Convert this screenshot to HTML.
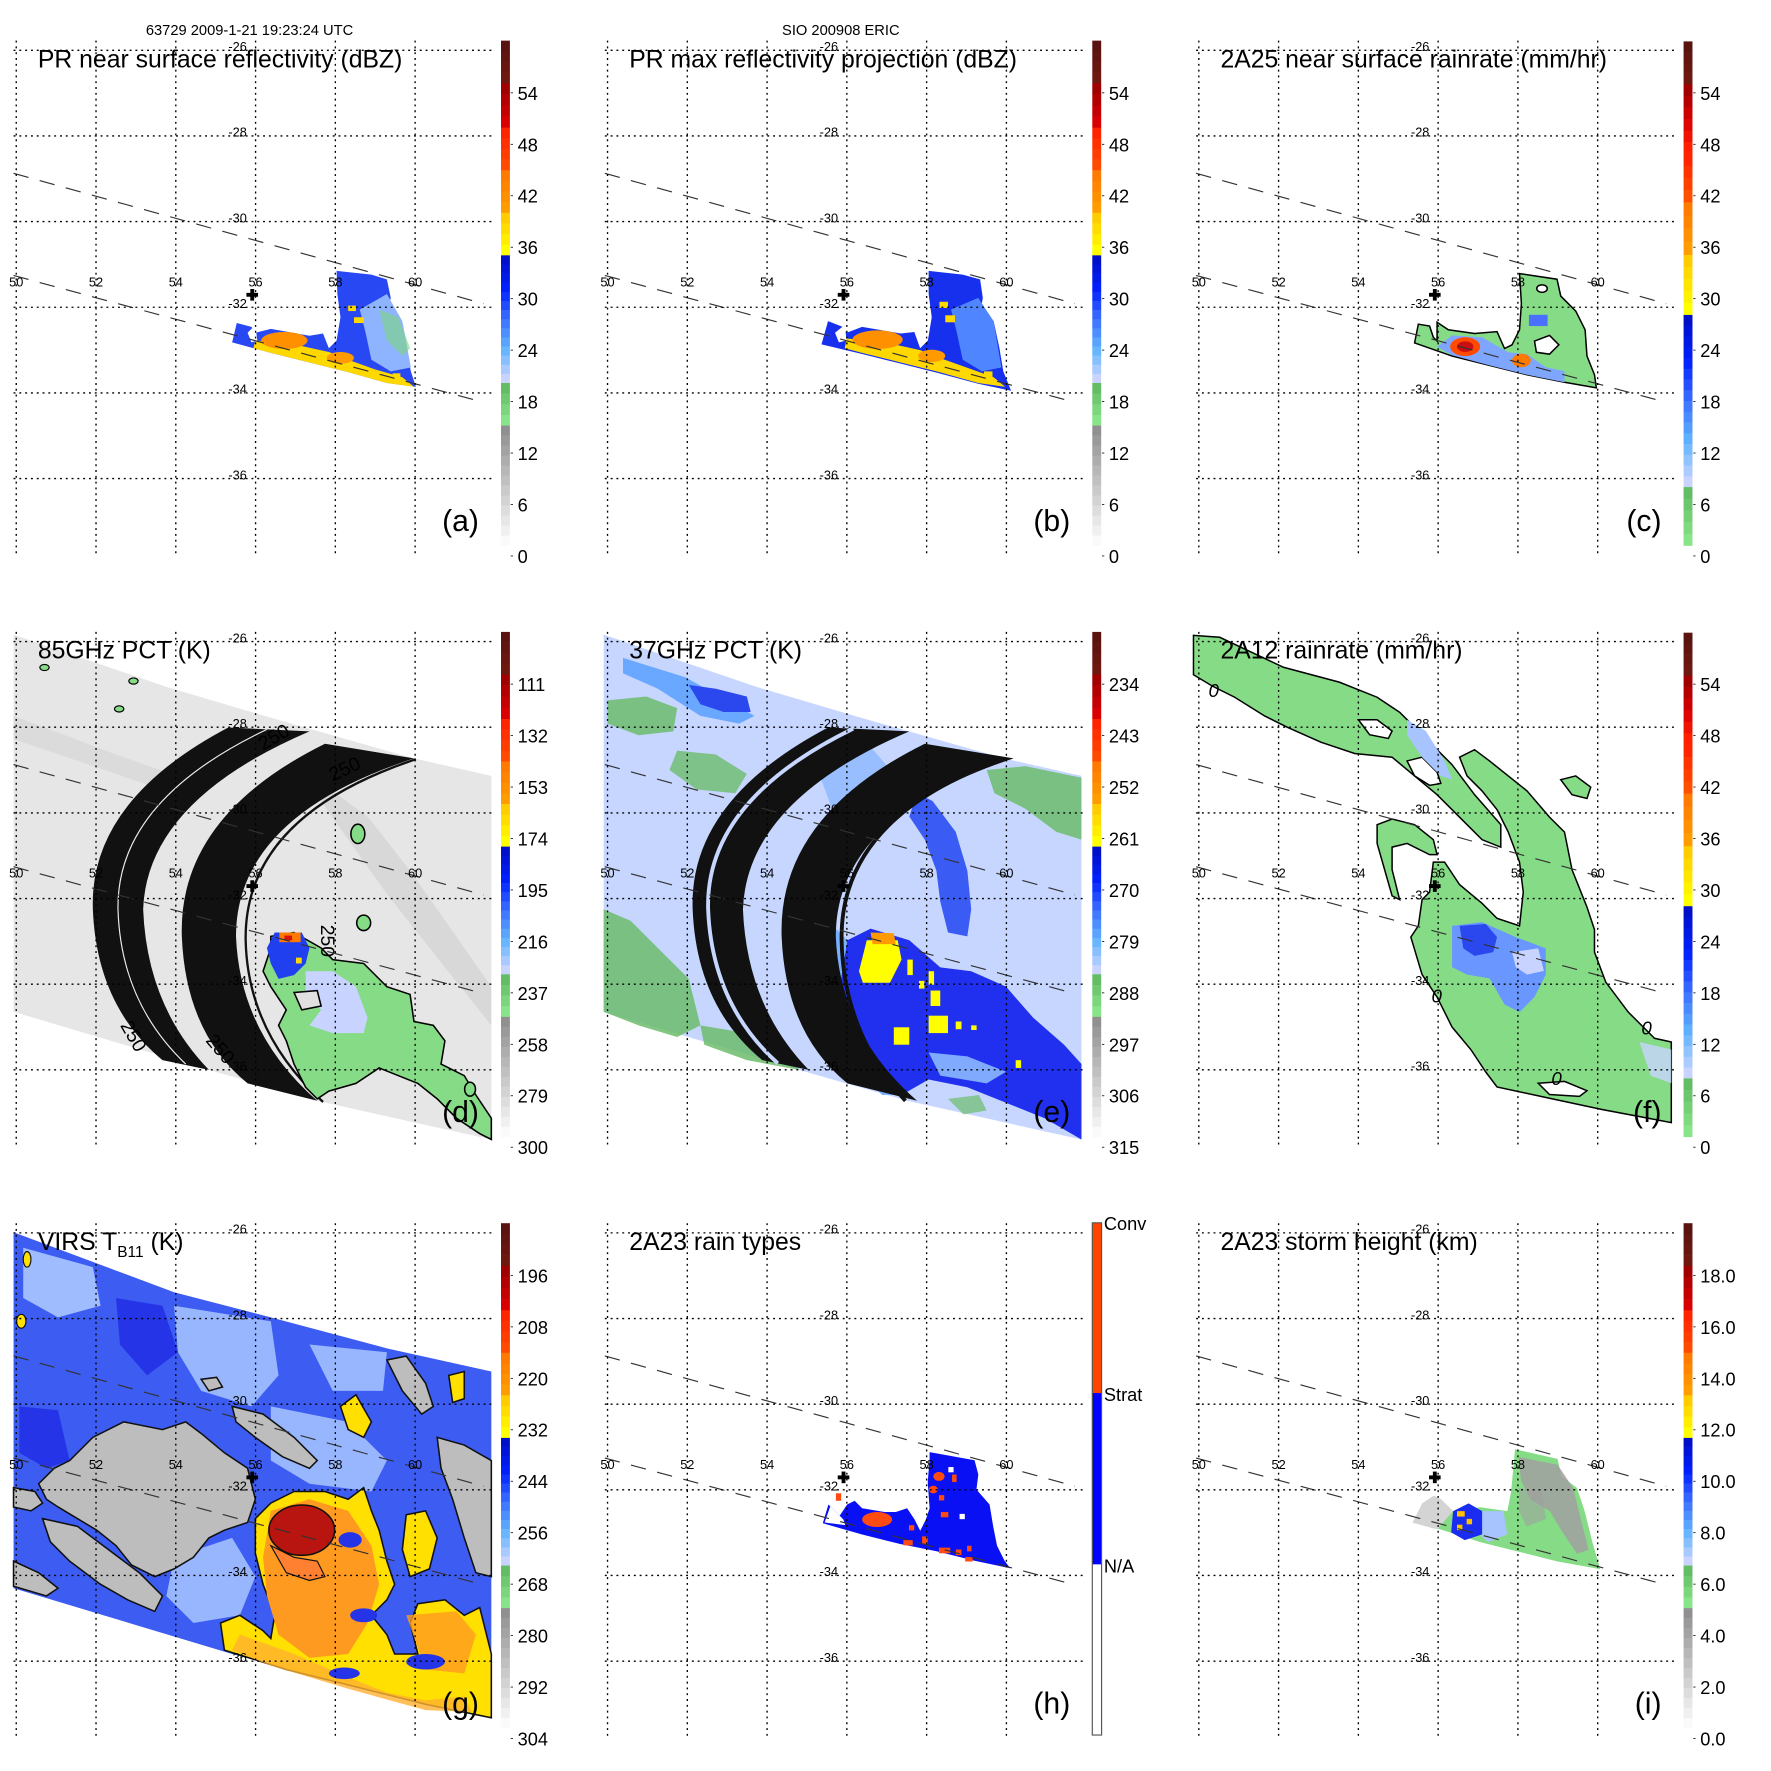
<!DOCTYPE html>
<html><head><meta charset="utf-8">
<style>
html,body{margin:0;padding:0;background:#fff;}
svg{display:block;font-family:"Liberation Sans",Arial,sans-serif;}
</style></head>
<body>
<svg id="fig" width="1771" height="1771" viewBox="0 0 1550 1550" xmlns="http://www.w3.org/2000/svg">
<rect x="0" y="0" width="1550" height="1550" fill="#fff"/>

<!-- panel a -->
<g id="pa" transform="translate(0,0) scale(0.3386)">
 <g>
  <polygon fill="#2848f4" points="600,885 612,835 650,845 660,860 700,850 800,868 835,862 850,900 870,880 880,820 872,760 870,700 960,710 1000,722 1010,770 1000,810 1035,830 1050,900 1062,960 1075,1000 1000,990 900,962 800,937 700,912"/>
  <polygon fill="#8fb4ff" points="930,800 1000,760 1040,830 1062,950 1010,960 960,930 945,860"/>
  <polygon fill="#7cd67c" opacity="0.6" points="980,800 1030,820 1060,900 1040,920 1000,880"/>
  <polygon fill="#ffd800" points="660,880 760,890 850,910 900,930 970,955 1040,975 1070,1000 1000,990 900,962 800,937 700,912 655,900"/>
  <ellipse cx="735" cy="880" rx="60" ry="22" fill="#ff9000"/>
  <ellipse cx="880" cy="925" rx="35" ry="15" fill="#ff9a00"/>
  <rect x="900" y="790" width="20" height="14" fill="#ffd800"/><rect x="915" y="820" width="25" height="15" fill="#ffd800"/><rect x="1015" y="965" width="20" height="15" fill="#ffd800"/>
  <polygon fill="#fff" points="640,860 660,840 665,880 650,885"/>
 </g>
</g>

<!-- panel b -->
<g id="pb" transform="translate(517.5,0) scale(0.3386)">
 <g>
  <polygon fill="#1630ee" points="595,890 612,830 650,845 660,860 700,845 800,862 835,858 850,900 870,880 880,820 872,760 872,700 960,710 1005,722 1012,770 1005,810 1040,830 1055,900 1065,960 1085,1010 1000,992 900,965 800,940 700,915"/>
  <polygon fill="#4f86ff" points="930,800 1000,770 1040,830 1060,950 1010,960 960,930 945,860"/>
  <polygon fill="#ffd800" points="660,875 760,885 850,905 900,925 970,950 1040,975 1070,1000 1000,990 900,962 800,937 700,912 655,900"/>
  <ellipse cx="740" cy="878" rx="65" ry="24" fill="#ff9000"/>
  <ellipse cx="880" cy="920" rx="35" ry="16" fill="#ff9a00"/>
  <rect x="900" y="780" width="22" height="16" fill="#ffd800"/><rect x="915" y="815" width="25" height="18" fill="#ffd800"/><rect x="1015" y="960" width="22" height="18" fill="#ffd800"/>
  <polygon fill="#fff" points="630,860 655,840 660,880 640,885"/>
 </g>
</g>

<!-- panel c -->
<g id="pc" transform="translate(1035,0) scale(0.3386)">
 <g transform="translate(18.5,0) scale(0.9687)">
  <polygon fill="#86dc86" stroke="#000" stroke-width="4" points="600,915 610,865 640,870 650,900 660,910 660,860 690,880 760,890 820,885 840,930 860,920 880,880 885,810 880,730 980,745 990,790 1030,830 1055,880 1060,950 1080,1000 1085,1035 1000,1020 900,1000 800,975 700,950"/>
  <polygon fill="#7fa6ff" points="660,925 700,895 780,900 850,940 900,945 950,980 1000,990 1000,1020 900,1000 800,975 700,948"/>
  <ellipse cx="735" cy="925" rx="40" ry="25" fill="#ff4a00"/>
  <ellipse cx="735" cy="925" rx="22" ry="14" fill="#c81010"/>
  <ellipse cx="885" cy="962" rx="25" ry="18" fill="#ff7a00"/>
  <polygon fill="#fff" stroke="#000" stroke-width="4" points="920,910 960,895 985,920 960,945 925,940"/>
  <ellipse cx="940" cy="770" rx="14" ry="10" fill="#fff" stroke="#000" stroke-width="4"/>
  <rect x="905" y="840" width="50" height="30" fill="#4a70ff"/>
 </g>
</g>

<!-- panel d -->
<g id="pd" transform="translate(0,517.5) scale(0.3386)">
 <g transform="translate(0,22)">
  <polygon fill="#e6e6e6" points="35,90 430,225 700,305 1070,410 1270,455 1270,1395 820,1295 540,1215 35,1065"/>
  <polygon fill="#d2d2d2" opacity="0.7" points="840,480 950,560 1060,700 1200,900 1270,1000 1270,1100 1150,950 1000,760 900,620 830,520"/>
  <polygon fill="#d6d6d6" opacity="0.7" points="35,300 300,400 500,470 500,520 300,450 35,360"/>
  <path fill="#111" d="M590,330 Q230,520 240,800 Q250,1050 420,1190 L540,1215 Q380,1050 370,800 Q380,520 800,340 Z"/>
  <path fill="none" stroke="#eee" stroke-width="3" d="M690,335 Q300,520 305,800 Q312,1040 480,1200"/>
  <path fill="#111" d="M840,372 Q460,560 470,870 Q480,1120 640,1250 L820,1295 Q620,1120 610,870 Q610,560 1070,410 Z"/>
  <path fill="none" stroke="#111" stroke-width="6" d="M1075,412 Q630,560 635,880 Q640,1120 835,1298"/>
  <polygon fill="#86dc86" stroke="#000" stroke-width="4" points="700,870 760,860 830,900 860,930 940,940 1000,1000 1060,1020 1070,1090 1120,1100 1150,1140 1140,1200 1200,1230 1230,1280 1270,1340 1270,1395 1240,1380 1180,1340 1130,1290 1080,1250 1030,1230 980,1210 920,1250 850,1270 820,1290 790,1260 760,1200 740,1140 720,1100 740,1060 700,1000 680,960 700,900"/>
  <polygon fill="#c8d4ff" points="790,960 860,960 920,1000 950,1080 940,1120 860,1120 800,1100 830,1060 790,1020"/>
  <polygon fill="#2040f0" points="710,860 780,860 800,900 790,940 760,970 720,980 700,940 690,900"/>
  <rect x="722" y="860" width="55" height="25" fill="#ff7a00"/><rect x="735" y="868" width="20" height="12" fill="#d81010"/><rect x="765" y="925" width="15" height="15" fill="#ffd800"/>
  <polygon fill="#e0e0e0" stroke="#000" stroke-width="4" points="760,1015 820,1010 830,1050 780,1060"/>
  <ellipse cx="925" cy="605" rx="18" ry="25" fill="#86dc86" stroke="#000" stroke-width="4"/>
  <ellipse cx="940" cy="835" rx="18" ry="20" fill="#86dc86" stroke="#000" stroke-width="4"/>
  <ellipse cx="1215" cy="1265" rx="14" ry="18" fill="#86dc86" stroke="#000" stroke-width="4"/>
  <ellipse cx="115" cy="175" rx="12" ry="8" fill="#86dc86" stroke="#000" stroke-width="3"/>
  <ellipse cx="345" cy="210" rx="12" ry="8" fill="#86dc86" stroke="#000" stroke-width="3"/>
  <ellipse cx="308" cy="282" rx="12" ry="8" fill="#86dc86" stroke="#000" stroke-width="3"/>
  <text x="0" y="0" font-size="50" transform="translate(680,390) rotate(-30)">250</text>
  <text x="0" y="0" font-size="50" transform="translate(860,470) rotate(-25)">250</text>
  <text x="0" y="0" font-size="50" transform="translate(830,840) rotate(90)">250</text>
  <text x="0" y="0" font-size="50" transform="translate(310,1100) rotate(60)">250</text>
  <text x="0" y="0" font-size="50" transform="translate(530,1140) rotate(50)">250</text>
 </g>
</g>

<!-- panel e -->
<g id="pe" transform="translate(517.5,517.5) scale(0.3386)">
 <g transform="translate(22,22)">
  <polygon fill="#c6d6ff" points="10,90 405,225 675,305 1045,410 1245,455 1245,1395 795,1295 515,1215 10,1065"/>
  <polygon fill="#6cbc6c" opacity="0.85" points="20,260 120,250 200,280 190,340 100,350 20,320"/>
  <polygon fill="#6cbc6c" opacity="0.8" points="200,390 300,400 380,450 350,500 250,490 180,440"/>
  <polygon fill="#6cbc6c" opacity="0.85" points="1000,440 1100,430 1245,460 1245,620 1180,600 1100,540 1020,500"/>
  <polygon fill="#6cbc6c" opacity="0.85" points="10,800 80,830 150,900 230,980 260,1100 200,1130 100,1100 10,1065"/>
  <polygon fill="#6cbc6c" opacity="0.85" points="260,1100 380,1120 500,1180 515,1215 380,1190 270,1150"/>
  <polygon fill="#6cbc6c" opacity="0.7" points="900,1290 980,1280 1000,1320 940,1330"/>
  <polygon fill="#6aa8ff" points="60,150 220,200 330,260 400,300 360,320 260,300 150,230 60,190"/>
  <polygon fill="#2a48ee" points="230,220 300,230 380,250 390,290 320,290 260,270"/>
  <polygon fill="#8cb8ff" opacity="0.8" points="560,430 700,380 760,450 700,520 600,540"/>
  <polygon fill="#3a5cf4" points="820,500 860,520 920,600 950,700 960,800 950,870 900,860 880,780 870,700 840,620 800,560"/>
  <polygon fill="#2030ee" points="640,880 700,850 800,880 880,950 960,960 1050,1000 1120,1080 1200,1150 1245,1200 1245,1395 1150,1340 1050,1300 950,1260 850,1240 780,1280 700,1200 640,1100 620,1000"/>
  <polygon fill="#78b0ff" points="600,840 640,880 620,1000 640,1100 700,1200 780,1280 730,1280 650,1200 600,1100 590,950"/>
  <polygon fill="#8ab8ff" opacity="0.9" points="850,1170 950,1180 1050,1220 1000,1250 880,1230"/>
  <polygon fill="#ffff00" points="690,880 770,880 780,930 750,990 680,990 670,960"/>
  <polygon fill="#ff9a00" points="700,860 760,862 765,890 705,890"/>
  <rect x="795" y="930" width="14" height="40" fill="#ffff00"/><rect x="850" y="960" width="14" height="35" fill="#ffff00"/><rect x="825" y="985" width="14" height="20" fill="#ffff00"/>
  <rect x="855" y="1010" width="25" height="40" fill="#ffff00"/><rect x="850" y="1075" width="50" height="45" fill="#ffff00"/><rect x="760" y="1105" width="40" height="45" fill="#ffff00"/>
  <rect x="920" y="1090" width="15" height="20" fill="#ffff00"/><rect x="1075" y="1190" width="14" height="20" fill="#ffff00"/><rect x="960" y="1100" width="14" height="12" fill="#ffff00"/>
  <path fill="#111" d="M590,330 Q230,520 240,800 Q250,1050 420,1190 L540,1215 Q380,1050 370,800 Q380,520 800,340 Z"/>
  <path fill="none" stroke="#c6d6ff" stroke-width="10" d="M655,333 Q272,520 280,800 Q290,1045 460,1198"/>
  <path fill="#111" d="M840,372 Q460,560 470,870 Q480,1120 640,1250 L820,1295 Q620,1120 610,870 Q610,560 1070,410 Z"/>
  <path fill="none" stroke="#111" stroke-width="10" d="M1045,412 Q620,560 625,880 Q630,1120 790,1295"/>
 </g>
</g>

<!-- panel f -->
<g id="pf" transform="translate(1035,517.5) scale(0.3386)">
 <g transform="translate(18.5,22) scale(0.9687)">
  <polygon fill="#86dc86" stroke="#000" stroke-width="4" points="10,95 80,100 250,180 400,220 500,260 560,300 620,360 700,440 760,520 830,600 830,660 780,640 720,580 660,520 600,470 540,420 440,410 350,380 260,340 200,310 120,260 60,230 10,200"/>
  <polygon fill="#86dc86" stroke="#000" stroke-width="4" points="720,420 760,400 800,430 850,470 900,510 960,580 1000,620 1020,720 1060,820 1080,880 1080,940 1110,1020 1170,1100 1240,1170 1285,1180 1285,1395 1100,1360 960,1330 820,1300 790,1260 750,1200 700,1140 660,1060 620,1000 590,900 610,870 620,800 640,780 650,700 680,700 720,760 780,810 820,850 880,870 890,780 880,700 850,620 820,560 780,510 740,470"/>
  <polygon fill="#86dc86" stroke="#000" stroke-width="4" points="500,600 540,585 600,600 650,640 660,680 640,680 580,650 540,660 540,720 560,800 540,790 520,720 500,650"/>
  <polygon fill="#86dc86" stroke="#000" stroke-width="4" points="990,480 1030,470 1070,500 1060,530 1020,520"/>
  <polygon fill="#fff" stroke="#000" stroke-width="4" points="580,430 620,420 660,460 670,490 640,495 600,470"/>
  <polygon fill="#fff" stroke="#000" stroke-width="4" points="450,320 500,320 540,350 530,370 480,360"/>
  <polygon fill="#fff" stroke="#000" stroke-width="4" points="930,1290 1000,1285 1060,1310 1040,1325 960,1320"/>
  <polygon fill="#a8c4ff" points="580,320 630,350 680,430 700,480 670,470 620,420 580,360"/>
  <polygon fill="#6a96ff" points="700,870 780,860 870,900 950,930 950,1000 920,1060 880,1100 840,1080 800,1010 740,1000 700,980"/>
  <polygon fill="#2a48ee" points="720,870 790,865 820,900 810,940 760,950 730,930"/>
  <polygon fill="#c8d4ff" points="860,940 930,930 945,990 900,1000 870,980"/>
  <polygon fill="#c8d4ff" opacity="0.8" points="1200,1180 1285,1200 1285,1290 1230,1270"/>
  <text x="50" y="260" font-size="50" font-style="italic">0</text>
  <text x="645" y="1075" font-size="50" font-style="italic">0</text>
  <text x="1205" y="1160" font-size="50" font-style="italic">0</text>
  <text x="965" y="1295" font-size="50" font-style="italic">0</text>
 </g>
</g>

<!-- panel g -->
<g id="pg" transform="translate(0,1035) scale(0.3386)">
 <g transform="translate(0,18.5)">
  <polygon fill="#3c5cf2" points="35,110 450,265 700,330 1000,410 1270,470 1270,1365 900,1280 600,1200 35,1030"/>
  <polygon fill="#a8c6ff" opacity="0.9" points="60,150 240,200 260,300 150,330 60,280"/>
  <polygon fill="#a8c6ff" opacity="0.85" points="450,300 700,340 720,480 650,560 520,520 460,420"/>
  <polygon fill="#a8c6ff" opacity="0.85" points="700,560 900,600 1000,700 960,780 800,760 700,700"/>
  <polygon fill="#a8c6ff" opacity="0.85" points="800,400 1000,420 990,520 860,520"/>
  <polygon fill="#a8c6ff" opacity="0.85" points="450,950 600,900 660,1000 620,1100 500,1120 430,1050"/>
  <polygon fill="#2434e6" points="300,280 420,300 460,420 380,480 310,400"/>
  <polygon fill="#2434e6" points="50,560 150,570 180,700 120,720 50,680"/>
  <polygon fill="#bdbdbd" stroke="#111" stroke-width="4" points="180,700 240,640 320,600 420,620 480,600 520,630 580,680 640,720 660,800 640,860 580,880 540,900 500,950 450,980 400,1000 340,970 300,920 250,880 200,850 150,820 120,800 100,760 140,720"/>
  <polygon fill="#bdbdbd" stroke="#111" stroke-width="4" points="110,850 200,870 280,930 360,990 420,1050 400,1090 330,1060 260,1020 180,960 130,910"/>
  <polygon fill="#bdbdbd" stroke="#111" stroke-width="4" points="35,770 90,780 110,810 80,830 35,820"/>
  <polygon fill="#bdbdbd" stroke="#111" stroke-width="4" points="35,960 100,990 150,1030 120,1050 35,1025"/>
  <polygon fill="#bdbdbd" stroke="#111" stroke-width="4" points="1130,640 1200,660 1270,700 1270,1000 1230,990 1200,900 1170,800 1140,720"/>
  <polygon fill="#bdbdbd" stroke="#111" stroke-width="4" points="600,560 680,580 760,640 820,700 800,720 730,690 660,640 610,600"/>
  <polygon fill="#bdbdbd" stroke="#111" stroke-width="4" points="1000,440 1050,430 1100,500 1120,560 1090,580 1040,520"/>
  <polygon fill="#bdbdbd" stroke="#111" stroke-width="4" points="520,490 560,485 575,510 540,520"/>
  <polygon fill="#ffe000" stroke="#111" stroke-width="4" points="660,850 700,810 760,780 840,780 900,800 940,770 960,830 980,880 1000,960 1020,1020 1000,1060 960,1100 1000,1150 1020,1200 1080,1200 1060,1120 1080,1070 1150,1060 1200,1100 1240,1080 1270,1200 1270,1365 1100,1330 900,1280 740,1240 580,1190 570,1120 620,1100 680,1140 700,1160 710,1100 680,1020 660,940"/>
  <polygon fill="#ff9a20" points="700,830 800,800 900,830 960,920 980,1020 950,1120 900,1200 800,1210 720,1150 690,1050 680,950"/>
  <polygon fill="#ffb030" opacity="0.8" points="620,1150 760,1200 900,1260 1000,1300 1100,1320 1200,1310 1220,1350 1100,1345 900,1290 700,1230 600,1190"/>
  <polygon fill="#ff9a20" opacity="0.8" points="1050,1100 1180,1090 1230,1150 1200,1250 1100,1240"/>
  <ellipse cx="780" cy="880" rx="85" ry="65" fill="#b81410" stroke="#111" stroke-width="4"/>
  <polygon fill="#ff8030" stroke="#111" stroke-width="3" points="700,920 760,950 820,960 840,1000 800,1010 740,990"/>
  <polygon fill="#ffe000" stroke="#111" stroke-width="4" points="1050,840 1100,830 1130,900 1110,980 1060,1000 1040,930"/>
  <polygon fill="#ffe000" stroke="#111" stroke-width="4" points="880,560 920,530 960,600 940,640 900,620"/>
  <polygon fill="#ffe000" stroke="#111" stroke-width="4" points="1160,480 1200,470 1200,540 1170,550"/>
  <ellipse cx="70" cy="180" rx="10" ry="20" fill="#ffe000" stroke="#111" stroke-width="3"/>
  <ellipse cx="55" cy="340" rx="12" ry="18" fill="#ffe000" stroke="#111" stroke-width="3"/>
  <ellipse cx="905" cy="905" rx="30" ry="20" fill="#2434e6"/>
  <ellipse cx="940" cy="1100" rx="35" ry="18" fill="#2434e6"/>
  <ellipse cx="1100" cy="1220" rx="50" ry="20" fill="#2434e6"/>
  <ellipse cx="890" cy="1250" rx="40" ry="15" fill="#2434e6"/>
 </g>
</g>

<!-- panel h -->
<g id="ph" transform="translate(517.5,1035) scale(0.3386)">
 <g transform="translate(22,18.5) scale(0.9687)">
  <polygon fill="#0a10f4" points="595,890 610,840 640,870 660,840 680,830 700,850 760,860 790,860 820,850 840,880 855,910 870,880 880,850 875,780 880,720 880,700 1000,722 1010,760 1005,800 1040,840 1050,900 1060,950 1080,990 1095,1010 1000,990 900,965 800,945 700,920"/>
  <polygon fill="#fff" points="615,845 650,880 655,895 600,888"/>
  <ellipse cx="740" cy="880" rx="40" ry="20" fill="#ff4a10"/>
  <ellipse cx="905" cy="765" rx="15" ry="12" fill="#ff4a10"/>
  <ellipse cx="890" cy="800" rx="12" ry="10" fill="#ff4a10"/>
  <rect x="940" y="760" width="12" height="20" fill="#ff4a10"/><rect x="905" y="815" width="14" height="14" fill="#ff4a10"/><rect x="910" y="860" width="20" height="14" fill="#ff4a10"/>
  <rect x="810" y="935" width="25" height="14" fill="#ff4a10"/><rect x="860" y="925" width="15" height="20" fill="#ff4a10"/><rect x="905" y="955" width="30" height="15" fill="#ff4a10"/>
  <rect x="950" y="960" width="15" height="15" fill="#ff4a10"/><rect x="975" y="980" width="20" height="12" fill="#ff4a10"/><rect x="825" y="895" width="14" height="14" fill="#ff4a10"/>
  <rect x="630" y="810" width="14" height="20" fill="#ff4a10"/><rect x="980" y="950" width="12" height="15" fill="#ff4a10"/>
  <rect x="960" y="865" width="14" height="14" fill="#fff"/><rect x="930" y="740" width="14" height="14" fill="#fff"/>
 </g>
</g>

<!-- panel i -->
<g id="pi" transform="translate(1035,1035) scale(0.3386)">
 <g transform="translate(-30.7,-30.7)">
  <polygon fill="#d4d4d4" points="625,910 650,860 680,840 700,850 730,880 720,930 680,925"/>
  <polygon fill="#86dc86" points="690,925 730,880 800,870 870,880 880,830 890,720 1000,745 1010,790 1050,820 1070,880 1090,960 1110,1030 1000,1010 900,985 800,960"/>
  <polygon fill="#a0a0a0" opacity="0.85" points="900,740 1000,760 1040,820 1060,900 1080,980 1050,990 1010,930 980,880 930,850 905,800"/>
  <polygon fill="#a0a0a0" opacity="0.6" points="900,820 960,830 970,900 920,920 900,880"/>
  <polygon fill="#a8c4ff" points="800,880 860,880 870,940 820,960 790,930"/>
  <polygon fill="#1a2cf0" points="730,880 770,860 805,880 805,940 760,955 725,935"/>
  <rect x="740" y="880" width="20" height="14" fill="#ffc000"/><rect x="765" y="900" width="14" height="14" fill="#ffc000"/><rect x="740" y="915" width="14" height="14" fill="#ffc000"/>
 </g>
</g>

<script>
// ---- axis tick data ----
const lonTicks = [50, 52, 54, 56, 58, 60];
const latTicks = [-26, -28, -30, -32, -34, -36];
const cbLabelsA = ['54', '48', '42', '36', '30', '24', '18', '12', '6', '0'];
const cbLabelsB = ['54', '48', '42', '36', '30', '24', '18', '12', '6', '0'];
const cbLabelsC = ['54', '48', '42', '36', '30', '24', '18', '12', '6', '0'];
const cbLabelsD = ['111', '132', '153', '174', '195', '216', '237', '258', '279', '300'];
const cbLabelsE = ['234', '243', '252', '261', '270', '279', '288', '297', '306', '315'];
const cbLabelsF = ['54', '48', '42', '36', '30', '24', '18', '12', '6', '0'];
const cbLabelsG = ['196', '208', '220', '232', '244', '256', '268', '280', '292', '304'];
const cbLabelsH = ['Conv', 'Strat', 'N/A'];
const cbLabelsI = ['18.0', '16.0', '14.0', '12.0', '10.0', '8.0', '6.0', '4.0', '2.0', '0.0'];

const NS = 'http://www.w3.org/2000/svg';
function xLon(lon) { return 42 + (lon - 50) * 103.1; }
function yLat(lat) { return 130 + (-26 - lat) * 110.7; }
function mk(tag, attrs, parent) {
  const e = document.createElementNS(NS, tag);
  for (const k in attrs) e.setAttribute(k, attrs[k]);
  parent.appendChild(e);
  return e;
}
function hex(c) { return [parseInt(c.substr(1,2),16), parseInt(c.substr(3,2),16), parseInt(c.substr(5,2),16)]; }
function lerp(a, b, t) { const A = hex(a), B = hex(b); return 'rgb(' + A.map((v,i)=>Math.round(v+(B[i]-v)*t)).join(',') + ')'; }

const stdBands = [[105,215,['#5a1410','#6e1810'],4],[215,330,['#a00000','#d80000'],4],[330,440,['#ff2400','#ff4a00'],4],[440,550,['#ff7a00','#ff9c00'],4],[550,660,['#ffcc00','#ffff00'],4],[660,990,['#0010c8','#0020ff','#3c70ff','#60b4ff','#c8d4ff'],14],[990,1100,['#64bc64','#88e488'],4],[1100,1410,['#909090','#fafafa'],12]];
const rainBands = [[107,218,['#5a1410','#6e1810'],4],[218,397,['#a00000','#d80000','#ff2000'],6],[397,523,['#ff2400','#ff5000'],4],[523,659,['#ff7a00','#ff9c00'],4],[659,814,['#ffcc00','#ffff00'],5],[814,1259,['#0010c8','#0020ff','#3c70ff','#60b4ff','#c8d4ff'],16],[1259,1410,['#64bc64','#88e488'],5]];

function drawBands(g, bands) {
  bands.forEach(b => {
    const [y0, y1, cols, n] = b;
    const h = (y1 - y0) / n;
    for (let i = 0; i < n; i++) {
      const t = n > 1 ? i / (n - 1) : 0;
      const seg = t * (cols.length - 1);
      const k = Math.min(Math.floor(seg), cols.length - 2);
      const r = mk('rect', {x: 1295, y: y0 + i * h, width: 23, height: h + 0.8, fill: lerp(cols[k], cols[k+1], seg - k)}, g);
      
      
    }
  });
}

const panels = [
  {id:'pa', title:'PR near surface reflectivity (dBZ)', letter:'(a)', labels:cbLabelsA, bands:stdBands, header:'63729 2009-1-21 19:23:24 UTC'},
  {id:'pb', title:'PR max reflectivity projection (dBZ)', letter:'(b)', labels:cbLabelsB, bands:stdBands, header:'SIO 200908 ERIC'},
  {id:'pc', title:'2A25 near surface rainrate (mm/hr)', letter:'(c)', labels:cbLabelsC, bands:rainBands},
  {id:'pd', title:'85GHz PCT (K)', letter:'(d)', labels:cbLabelsD, bands:stdBands},
  {id:'pe', title:'37GHz PCT (K)', letter:'(e)', labels:cbLabelsE, bands:stdBands},
  {id:'pf', title:'2A12 rainrate (mm/hr)', letter:'(f)', labels:cbLabelsF, bands:rainBands},
  {id:'pg', title:'VIRS', letter:'(g)', labels:cbLabelsG, bands:stdBands, virs:true},
  {id:'ph', title:'2A23 rain types', letter:'(h)', labels:cbLabelsH, bands:null},
  {id:'pi', title:'2A23 storm height (km)', letter:'(i)', labels:cbLabelsI, bands:stdBands}
];

panels.forEach(p => {
  const g = document.getElementById(p.id);
  const sw = mk('g', {}, g);
  
  
  mk('line', {x1:35, y1:448, x2:1250, y2:785, stroke:'#333', 'stroke-width':3, 'stroke-dasharray':'40 30'}, sw);
  mk('line', {x1:35, y1:712, x2:1250, y2:1040, stroke:'#333', 'stroke-width':3, 'stroke-dasharray':'40 30'}, sw);
  const grid = mk('g', {}, g);
  
  
  lonTicks.forEach(lon => {
    const l = mk('line', {x1:xLon(lon), y1:105, x2:xLon(lon), y2:1430, stroke:'#000', 'stroke-width':3.5, 'stroke-dasharray':'5 10'}, grid);
    
    
    const t = mk('text', {x:xLon(lon), y:740, 'font-size':33, 'text-anchor':'middle', fill:'#000'}, grid);
    t.textContent = String(lon);
    
    
  });
  latTicks.forEach(lat => {
    const l = mk('line', {x1:35, y1:yLat(lat), x2:1278, y2:yLat(lat), stroke:'#000', 'stroke-width':3.5, 'stroke-dasharray':'5 10'}, grid);
    
    
    const t = mk('text', {x:638, y:yLat(lat) + 2, 'font-size':33, 'text-anchor':'end', fill:'#000'}, grid);
    t.textContent = String(lat);
    
    
  });
  const c = mk('g', {}, g);
  
  
  mk('rect', {x:637, y:757, width:30, height:10, fill:'#000'}, c);
  mk('rect', {x:647, y:747, width:10, height:30, fill:'#000'}, c);
  const tt = mk('text', {x:98, y:174, 'font-size':64, fill:'#000'}, g);
  
  
  if (p.virs) {
    tt.textContent = 'VIRS T';
    const s = mk('tspan', {'font-size':40, dy:18}, tt); s.textContent = 'B11';
    const s2 = mk('tspan', {dy:-18}, tt); s2.textContent = ' (K)';
  } else tt.textContent = p.title;
  if (p.header) {
    const h = mk('text', {x:645, y:90, 'font-size':38, 'text-anchor':'middle', fill:'#000'}, g);
    h.textContent = p.header;
    
    
  }
  const lt = mk('text', {x:1238, y:1372, 'font-size':78, 'text-anchor':'end', fill:'#000'}, g);
  lt.textContent = p.letter;
  
  
  const cb = mk('g', {}, g);
  
  
  if (p.bands) {
    drawBands(cb, p.bands);
    p.labels.forEach((lab, i) => {
      const y = 240 + i * 133;
      mk('line', {x1:1320, y1:y, x2:1326, y2:y, stroke:'#000', 'stroke-width':2}, cb);
      const t = mk('text', {x:1338, y:y + 18, 'font-size':47, fill:'#000'}, cb);
      t.textContent = lab;
      
      
    });
  } else {
    const r1 = mk('rect', {x:1295, y:104, width:24, height:440, fill:'#ff4400'}, cb);
    
    
    const r2 = mk('rect', {x:1295, y:544, width:24, height:443, fill:'#0000ff'}, cb);
    
    
    const r3 = mk('rect', {x:1295, y:987, width:24, height:441, fill:'#fff'}, cb);
    
    
    mk('rect', {x:1295, y:104, width:24, height:1324, fill:'none', stroke:'#555', 'stroke-width':3}, cb);
    const ys = [122, 564, 1008];
    p.labels.forEach((lab, i) => {
      const t = mk('text', {x:1325, y:ys[i], 'font-size':47, fill:'#000'}, cb);
      t.textContent = lab;
      
      
    });
  }
});
</script>
</svg>
</body></html>
